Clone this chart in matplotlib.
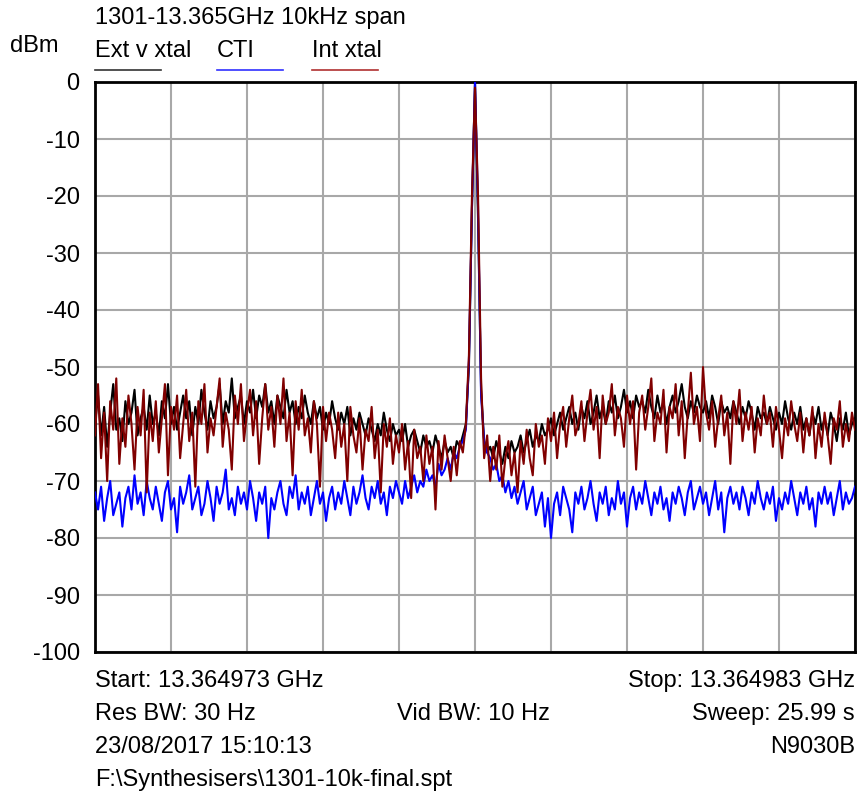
import numpy as np
import matplotlib
matplotlib.use('Agg')
import matplotlib.pyplot as plt

plt.rcParams['font.family'] = ['Liberation Sans', 'DejaVu Sans']

# frequency offset from centre, kHz (10 kHz span, 251 trace points)
span_khz = 10
n_points = 251

ext_v_xtal = [
    -60, -55, -62, -57, -64, -58, -53, -61, -59, -63,
    -56, -60, -58, -54, -62, -59, -57, -61, -55, -60,
    -58, -62, -56, -59, -53, -60, -57, -61, -58, -55,
    -59, -56, -62, -57, -60, -54, -58, -61, -56, -59,
    -57, -53, -60, -56, -58, -52, -59, -57, -55, -60,
    -56, -58, -54, -59, -55, -57, -53, -58, -56, -60,
    -55, -57, -59, -54, -58, -56, -60, -57, -59, -55,
    -58, -60, -56, -59, -57, -61, -58, -60, -56, -59,
    -61, -58, -60, -57, -62, -59, -61, -58, -60, -62,
    -59, -61, -63, -60, -62, -58, -61, -63, -60, -62,
    -61, -63, -60, -64, -62, -61, -63, -65, -62, -64,
    -63, -65, -62, -64, -66, -63, -65, -64, -66, -63,
    -64, -62, -60, -50, -22, 0, -24, -54, -63, -65,
    -64, -66, -63, -65, -67, -64, -66, -63, -65, -64,
    -62, -65, -63, -61, -64, -62, -63, -60, -62, -61,
    -59, -62, -60, -58, -61, -59, -57, -60, -58, -61,
    -57, -59, -56, -60, -58, -55, -59, -57, -60, -56,
    -58, -55, -59, -57, -54, -58, -56, -59, -55, -57,
    -56, -58, -54, -57, -59, -55, -58, -56, -60, -57,
    -55, -58, -56, -53, -57, -59, -56, -58, -55, -57,
    -58, -56, -59, -55, -57, -60, -56, -58, -57, -59,
    -56, -58, -60, -57, -59, -56, -58, -61, -57, -59,
    -58, -60, -57, -59, -61, -58, -60, -56, -59, -61,
    -58, -60, -57, -61, -59, -62, -58, -60, -57, -61,
    -59, -62, -58, -60, -63, -59, -61, -58, -62, -60, -59,
]

int_xtal = [
    -62, -53, -66, -58, -70, -56, -61, -52, -67, -59,
    -64, -55, -60, -68, -57, -62, -54, -72, -58, -63,
    -56, -65, -59, -53, -69, -57, -61, -55, -66, -60,
    -54, -63, -58, -71, -56, -60, -53, -65, -59, -62,
    -57, -52, -64, -58, -61, -68, -55, -60, -53, -63,
    -58, -54, -62, -56, -67, -59, -53, -61, -57, -64,
    -55, -60, -52, -63, -58, -69, -56, -61, -54, -62,
    -59, -65, -56, -60, -71, -57, -63, -58, -61, -66,
    -58, -64, -60, -70, -57, -62, -65, -59, -68, -61,
    -63, -57, -66, -61, -72, -60, -64, -59, -67, -62,
    -65, -60, -68, -63, -73, -61, -66, -64, -70, -62,
    -67, -64, -75, -63, -68, -62, -66, -70, -64, -69,
    -63, -65, -60, -48, -20, -1, -20, -52, -66, -62,
    -70, -64, -68, -62, -71, -66, -63, -69, -65, -72,
    -63, -67, -61, -66, -69, -60, -64, -62, -67, -59,
    -63, -58, -66, -60, -57, -64, -59, -55, -62, -60,
    -56, -63, -58, -54, -61, -57, -66, -55, -60, -58,
    -53, -62, -57, -59, -64, -55, -60, -56, -68, -58,
    -55, -61, -57, -52, -63, -58, -60, -54, -65, -57,
    -59, -53, -62, -56, -66, -58, -51, -60, -57, -63,
    -50, -58, -61, -56, -64, -59, -55, -62, -58, -67,
    -56, -60, -54, -63, -58, -61, -57, -65, -59, -62,
    -55, -60, -58, -64, -57, -61, -66, -59, -62, -56,
    -60, -63, -58, -65, -59, -62, -57, -66, -60, -64,
    -58, -62, -67, -59, -61, -56, -64, -60, -63, -58, -61,
]

cti = [
    -72, -75, -71, -77, -73, -70, -76, -74, -72, -78,
    -73, -71, -75, -69, -74, -72, -76, -70, -73, -75,
    -71, -74, -77, -72, -70, -75, -73, -79, -71, -74,
    -72, -69, -75, -73, -71, -76, -74, -70, -73, -77,
    -71, -74, -72, -68, -75, -73, -76, -71, -74, -72,
    -75, -70, -73, -77, -72, -74, -71, -80, -73, -75,
    -72, -70, -74, -76, -71, -73, -69, -75, -72, -74,
    -71, -76, -73, -70, -74, -72, -77, -73, -71, -75,
    -72, -74, -70, -73, -76, -71, -74, -72, -69, -73,
    -75, -71, -73, -70, -74, -72, -76, -71, -73, -70,
    -72, -74, -70, -73, -71, -69, -72, -70, -71, -68,
    -70, -69, -71, -67, -69, -68, -66, -68, -65, -66,
    -64, -63, -61, -49, -22, 0, -22, -55, -63, -65,
    -66, -68, -67, -70, -69, -72, -70, -73, -71, -74,
    -72, -70, -75, -73, -71, -76, -74, -72, -78, -73,
    -80, -74, -72, -76, -71, -73, -75, -79, -72, -74,
    -71, -75, -73, -70, -74, -77, -72, -74, -71, -76,
    -73, -75, -70, -74, -72, -78, -73, -71, -75, -72,
    -74, -70, -73, -76, -72, -74, -71, -75, -73, -77,
    -72, -74, -71, -73, -76, -72, -70, -75, -73, -71,
    -74, -72, -76, -73, -70, -75, -72, -79, -73, -71,
    -74, -72, -75, -71, -73, -76, -72, -74, -70, -73,
    -75, -72, -74, -71, -77, -73, -75, -72, -74, -70,
    -73, -76, -72, -74, -71, -75, -73, -78, -72, -74,
    -71, -74, -72, -76, -73, -70, -75, -72, -74, -73, -71,
]

y_ticks = [0, -10, -20, -30, -40, -50, -60, -70, -80, -90, -100]

title = '1301-13.365GHz 10kHz span'
legend_names = ['Ext v xtal', 'CTI', 'Int xtal']
legend_colors = ['#333333', '#3030ff', '#b03030']
legend_x = [95, 217, 312]

W, H = 857, 796
fig = plt.figure(figsize=(W / 100, H / 100), dpi=100)
fig.patch.set_facecolor('white')

def fx(px):
    return px / W

def fy(py):
    return 1 - py / H

ax = fig.add_axes([fx(95), fy(652), fx(855) - fx(95), fy(82) - fy(652)])

freq = np.linspace(-span_khz / 2, span_khz / 2, n_points)
ax.plot(freq, ext_v_xtal, color='black', lw=1.5, zorder=3)
ax.plot(freq, cti, color='#0000ff', lw=1.5, zorder=4)
ax.plot(freq, int_xtal, color='#800000', lw=1.5, zorder=5)

ax.set_xlim(-span_khz / 2, span_khz / 2)
ax.set_ylim(-100, 0)
ax.set_xticks(np.arange(-5, 6, 1))
ax.set_yticks(y_ticks)
ax.set_xticklabels([])
ax.set_yticklabels([str(t) for t in y_ticks], fontsize=17)
ax.tick_params(length=0, pad=11)
ax.grid(True, color='#a8a8a8', lw=1.5, zorder=1)
ax.set_axisbelow(True)
for s in ax.spines.values():
    s.set_color('black')
    s.set_linewidth(2)

# header
fig.text(fx(95), fy(18), title, fontsize=17, va='center', ha='left')
fig.text(fx(10), fy(46), 'dBm', fontsize=17, va='center', ha='left')
for name, col, x0 in zip(legend_names, legend_colors, legend_x):
    fig.text(fx(x0), fy(51), name, fontsize=17, va='center', ha='left')
    fig.add_artist(plt.Line2D([fx(x0), fx(x0 + 66)], [fy(70), fy(70)],
                              color=col, lw=1.2, transform=fig.transFigure))

# footer
fig.text(fx(95), fy(681), 'Start: 13.364973 GHz', fontsize=17, va='center', ha='left')
fig.text(fx(855), fy(681), 'Stop: 13.364983 GHz', fontsize=17, va='center', ha='right')
fig.text(fx(95), fy(714), 'Res BW: 30 Hz', fontsize=17, va='center', ha='left')
fig.text(fx(397), fy(714), 'Vid BW: 10 Hz', fontsize=17, va='center', ha='left')
fig.text(fx(855), fy(714), 'Sweep: 25.99 s', fontsize=17, va='center', ha='right')
fig.text(fx(95), fy(747), '23/08/2017 15:10:13', fontsize=17, va='center', ha='left')
fig.text(fx(855), fy(747), 'N9030B', fontsize=17, va='center', ha='right')
fig.text(fx(95), fy(780), 'F:\\Synthesisers\\1301-10k-final.spt', fontsize=17, va='center', ha='left')

fig.savefig('out.png', dpi=100)
